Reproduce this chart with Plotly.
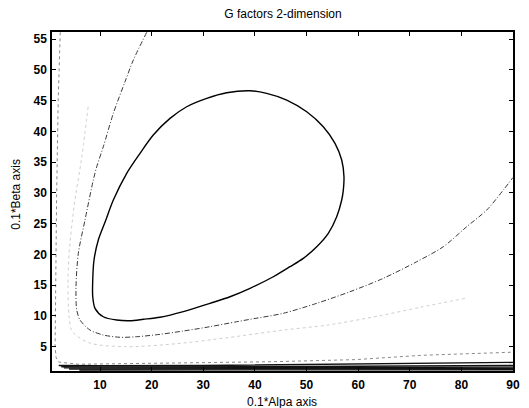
import plotly.graph_objects as go

loop_x = [8.59, 8.59, 8.84, 9.67, 11.0, 12.58, 15.17, 17.75, 20.32, 23.56, 26.79, 30.67, 34.54,
          39.06, 42.29, 46.17, 50.04, 53.25, 55.52, 56.82, 57.26, 57.13, 56.82, 55.85, 54.22,
          51.98, 49.38, 46.80, 43.57, 39.06, 35.18, 31.31, 26.14, 21.62, 18.39, 15.81, 13.23,
          10.64, 9.03, 8.59]
loop_y = [13.12, 15.84, 19.09, 22.34, 25.3, 28.84, 33.18, 36.43, 39.40, 42.11, 44.00, 45.36, 46.27,
          46.60, 46.18, 45.09, 43.19, 40.75, 38.05, 35.34, 32.62, 30.46, 28.84, 26.12, 23.43,
          21.25, 19.36, 18.00, 16.37, 14.49, 13.12, 12.05, 10.69, 9.78, 9.45, 9.22, 9.34,
          9.87, 11.24, 13.12]

dashdot_x = [19.05, 16.45, 14.84, 12.58, 10.64, 9.36, 8.70, 7.09, 5.80, 5.35, 5.49, 6.13, 8.06,
             10.64, 13.87, 17.11, 21.62, 26.14, 31.31, 36.48, 39.06, 45.51, 51.98, 58.43, 64.88,
             71.35, 76.50, 81.03, 84.91, 88.12, 90.0]
dashdot_y = [56.1, 51.59, 48.06, 42.93, 37.50, 34.25, 32.09, 25.59, 20.18, 14.75, 10.96, 9.34, 7.71,
             6.90, 6.53, 6.62, 7.01, 7.55, 8.25, 9.06, 9.45, 10.43, 12.05, 13.94, 16.11,
             18.81, 21.25, 24.50, 27.21, 30.46, 32.5]

faint_x = [7.7, 6.5, 5.0, 4.0, 3.8, 4.0, 4.6, 8.0, 15.0, 25.0, 35.0, 45.5, 54.0, 64.0, 72.0, 81.0]
faint_y = [44.0, 36.0, 28.0, 20.0, 15.0, 10.0, 7.5, 5.6, 5.0, 5.5, 6.5, 7.7, 8.5, 10.0, 11.4, 12.9]

edge_x = [2.3, 1.9, 1.6, 1.4, 1.3, 1.5, 2.0, 5.8, 18.7, 27.8, 43.6, 59.5, 72.3, 89.7]
edge_y = [56.1, 45.0, 30.0, 15.0, 5.0, 3.2, 2.5, 2.15, 2.3, 2.4, 2.56, 2.9, 3.6, 4.1]

base1_x = [2.0, 10.0, 30.0, 60.0, 80.0, 90.0]
base1_y = [1.95, 1.9, 1.95, 2.15, 2.4, 2.45]
base2_x = [2.5, 10.0, 40.0, 60.0, 90.0]
base2_y = [1.75, 1.72, 1.75, 1.82, 1.95]
base3_x = [3.0, 20.0, 60.0, 90.0]
base3_y = [1.55, 1.55, 1.6, 1.68]
base4_x = [4.0, 50.0, 90.0]
base4_y = [1.38, 1.4, 1.45]
base5_x = [6.0, 90.0]
base5_y = [1.22, 1.25]

x_ticks = [10, 20, 30, 40, 50, 60, 70, 80, 90]
y_ticks = [5, 10, 15, 20, 25, 30, 35, 40, 45, 50, 55]

fig = go.Figure()

def add(x, y, color, width, dash, shape="linear"):
    fig.add_trace(go.Scatter(x=x, y=y, mode="lines",
                             line=dict(color=color, width=width, dash=dash, shape=shape,
                                       smoothing=0.8),
                             hoverinfo="skip", showlegend=False))

add(faint_x, faint_y, "#cfcfcf", 1, "dot", "spline")
add(edge_x, edge_y, "#8a8a8a", 1, "dot")
for bx, by in [(base1_x, base1_y), (base2_x, base2_y), (base3_x, base3_y),
               (base4_x, base4_y), (base5_x, base5_y)]:
    add(bx, by, "#111111", 1.4, "solid")
add(dashdot_x, dashdot_y, "#3a3a3a", 1, "5px,2px,1px,2px", "spline")
add(loop_x, loop_y, "#000000", 1.4, "solid", "spline")

tick_font = dict(family="Liberation Sans, Arial", size=12, color="black", weight="bold")
title_font = dict(family="Liberation Sans, Arial", size=12, color="black")

axis_common = dict(showline=True, linecolor="black", linewidth=1.5, mirror="ticks",
                   ticks="inside", ticklen=4, tickwidth=1, tickcolor="black",
                   showgrid=False, zeroline=False, tickfont=tick_font, automargin=False)

fig.update_layout(
    width=529, height=408,
    margin=dict(l=52, r=16, t=32, b=37),
    paper_bgcolor="white", plot_bgcolor="white",
    title=dict(text="G factors 2-dimension", x=0.535, xanchor="center", y=0.965, yanchor="middle",
               font=title_font),
    xaxis=dict(range=[0.7, 90], tickvals=x_ticks, ticklabelstandoff=2, **axis_common),
    yaxis=dict(range=[1.05, 56.15], tickvals=y_ticks, ticklabelstandoff=1, **axis_common),
    annotations=[
        dict(text="0.1*Alpa axis", xref="paper", yref="paper", x=0.498, y=-0.09,
             xanchor="center", yanchor="middle", showarrow=False, font=title_font),
        dict(text="0.1*Beta axis", xref="paper", yref="paper", x=-0.078, y=0.52,
             xanchor="center", yanchor="middle", textangle=-90, showarrow=False,
             font=title_font),
    ],
)

fig.write_html("out.html")
